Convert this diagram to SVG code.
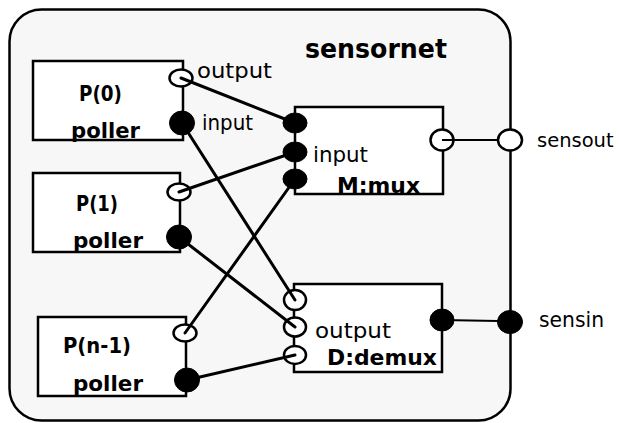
<svg xmlns="http://www.w3.org/2000/svg" width="619" height="423" viewBox="0 0 619 423">
<style>
.box{fill:#ffffff;stroke:#000;stroke-width:2.5}
.open{fill:#ffffff;stroke:#000;stroke-width:2.5}
.fill{fill:#000;stroke:#000;stroke-width:1}
.wire{stroke:#000;stroke-width:3;fill:none;stroke-linecap:round}
.wire2{stroke:#000;stroke-width:2.2;fill:none}
.b{font-family:"DejaVu Sans",sans-serif;font-weight:bold;font-size:22px;fill:#000}
.r{font-family:"DejaVu Sans",sans-serif;font-size:22px;fill:#000}
</style>
<rect width="619" height="423" fill="#ffffff"/>
<g id="sensornet">
<rect x="9.5" y="9.5" width="501" height="411" rx="32" ry="32" fill="#f7f7f7" stroke="#000" stroke-width="2.5"/>
<text class="b" x="305" y="58" style="font-size:26px" textLength="142" lengthAdjust="spacingAndGlyphs">sensornet</text>
<ellipse class="open" cx="510" cy="140" rx="12" ry="10.5"/>
<text class="r" x="537" y="147" style="font-size:19.5px">sensout</text>
<ellipse class="fill" cx="510" cy="322" rx="12.5" ry="11.5"/>
<text class="r" x="539" y="327" textLength="65" lengthAdjust="spacingAndGlyphs">sensin</text>
</g>
<g id="p0">
<rect class="box" x="33" y="61" width="150" height="79"/>
<text class="b" x="79" y="101" textLength="43" lengthAdjust="spacingAndGlyphs">P(0)</text>
<text class="b" x="71" y="138" textLength="69" lengthAdjust="spacingAndGlyphs">poller</text>
<ellipse class="open" cx="181" cy="78" rx="11.5" ry="8.5"/>
<ellipse class="fill" cx="182" cy="123" rx="12.5" ry="12"/>
<text class="r" x="197" y="78" textLength="75" lengthAdjust="spacingAndGlyphs">output</text>
<text class="r" x="202" y="130" textLength="51" lengthAdjust="spacingAndGlyphs">input</text>
</g>
<g id="p1">
<rect class="box" x="33" y="173" width="147" height="79"/>
<text class="b" x="76" y="211" textLength="42" lengthAdjust="spacingAndGlyphs">P(1)</text>
<text class="b" x="73" y="248" textLength="70" lengthAdjust="spacingAndGlyphs">poller</text>
<ellipse class="open" cx="179" cy="192" rx="11.5" ry="8.5"/>
<ellipse class="fill" cx="179" cy="237" rx="12.5" ry="12"/>
</g>
<g id="pn1">
<rect class="box" x="38" y="317" width="148" height="79"/>
<text class="b" x="63" y="353" textLength="68" lengthAdjust="spacingAndGlyphs">P(n-1)</text>
<text class="b" x="73" y="391" textLength="70" lengthAdjust="spacingAndGlyphs">poller</text>
<ellipse class="open" cx="185" cy="333" rx="11.5" ry="8.5"/>
<ellipse class="fill" cx="187" cy="380" rx="12.5" ry="12"/>
</g>
<g id="mux">
<rect class="box" x="295" y="107" width="148" height="87"/>
<ellipse class="fill" cx="295" cy="123" rx="12" ry="10"/>
<ellipse class="fill" cx="295" cy="152" rx="12" ry="10"/>
<ellipse class="fill" cx="295" cy="179" rx="12" ry="10"/>
<ellipse class="open" cx="442" cy="140" rx="11.5" ry="10.5"/>
<text class="r" x="313" y="162" textLength="55" lengthAdjust="spacingAndGlyphs">input</text>
<text class="b" x="337" y="193" textLength="83" lengthAdjust="spacingAndGlyphs">M:mux</text>
</g>
<g id="demux">
<rect class="box" x="294" y="284" width="148" height="88"/>
<ellipse class="open" cx="295" cy="300" rx="11" ry="10"/>
<ellipse class="open" cx="295" cy="327" rx="11" ry="9.5"/>
<ellipse class="open" cx="295" cy="355" rx="11" ry="9"/>
<ellipse class="fill" cx="442" cy="320" rx="12" ry="11"/>
<text class="r" x="315" y="338" textLength="76" lengthAdjust="spacingAndGlyphs">output</text>
<text class="b" x="327" y="365" textLength="110" lengthAdjust="spacingAndGlyphs">D:demux</text>
</g>
<g id="connectors">
<line class="wire" x1="181" y1="78" x2="295" y2="123"/>
<line class="wire" x1="182" y1="123" x2="295" y2="300"/>
<line class="wire" x1="179" y1="192" x2="295" y2="152"/>
<line class="wire" x1="179" y1="237" x2="295" y2="327"/>
<line class="wire" x1="185" y1="333" x2="295" y2="179"/>
<line class="wire" x1="187" y1="380" x2="295" y2="355"/>
<line class="wire2" x1="442" y1="140" x2="498" y2="140"/>
<line class="wire2" x1="442" y1="320" x2="498" y2="321"/>
</g>
</svg>
